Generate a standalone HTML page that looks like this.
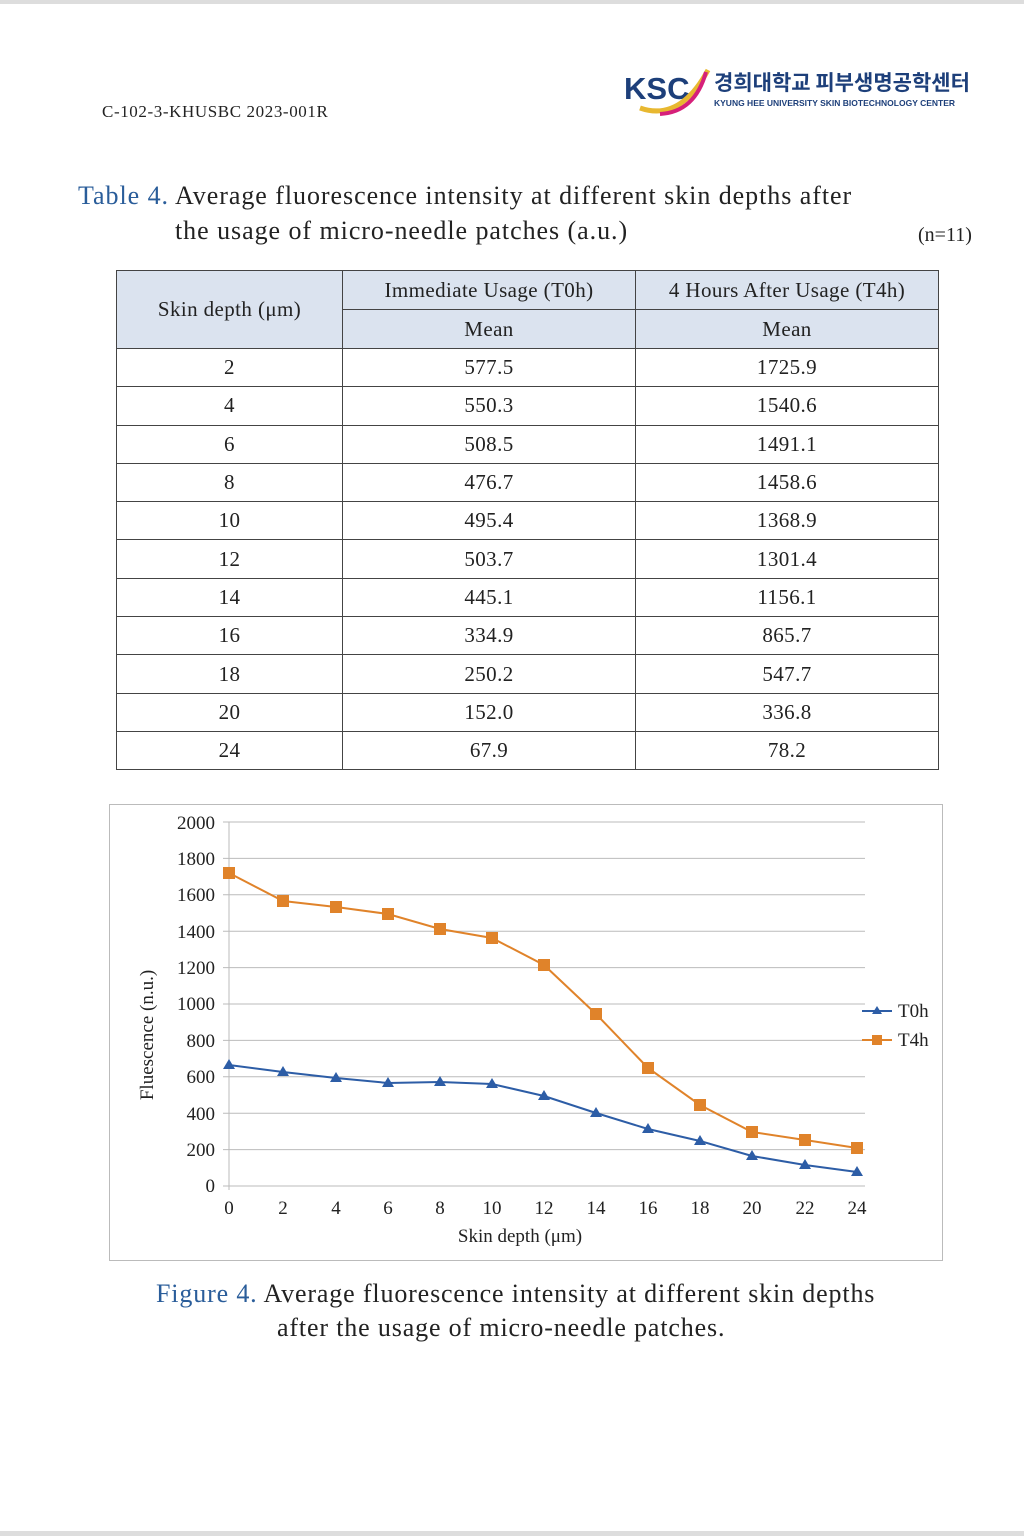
<!DOCTYPE html>
<html><head><meta charset="utf-8"><style>
body{margin:0;width:1024px;height:1536px;background:#fff;position:relative;font-family:"Liberation Serif",serif;color:#222;overflow:hidden}
.a{position:absolute;white-space:nowrap}
table{position:absolute;left:116px;top:270px;border-collapse:collapse;font-size:21px;letter-spacing:0.4px}
td{border:1.5px solid #444;text-align:center;padding:0;height:37.3px}
.h{background:#dbe3ef}
</style></head><body>
<div class="a" style="left:0;top:0;width:1024px;height:4px;background:#ddd"></div>
<div class="a" style="left:0;top:1531px;width:1024px;height:5px;background:#ddd"></div>
<div class="a" style="left:102px;top:102px;font-size:17px;letter-spacing:0.6px">C-102-3-KHUSBC 2023-001R</div>
<svg class="a" style="left:620px;top:62px" width="350" height="60">
<text x="4" y="37" font-family="Liberation Sans" font-weight="bold" font-size="31" fill="#1d3f7a">KSC</text>
<path d="M20 46 Q60 60 88 8" stroke="#e8b830" stroke-width="5" fill="none"/>
<path d="M40 52 Q75 50 86 10" stroke="#d6207a" stroke-width="4" fill="none"/>
<text x="94" y="28" font-family="Noto Sans CJK KR,sans-serif" font-weight="bold" font-size="21" fill="#1d3f7a">경희대학교 피부생명공학센터</text>
<text x="94" y="44" font-family="Liberation Sans" font-weight="bold" font-size="8.5" fill="#1d3f7a">KYUNG HEE UNIVERSITY SKIN BIOTECHNOLOGY CENTER</text>
</svg>
<div class="a" style="left:78px;top:181px;font-size:26px;letter-spacing:0.95px"><span style="color:#2a5d9a">Table 4.</span> Average fluorescence intensity at different skin depths after</div>
<div class="a" style="left:175px;top:216px;font-size:26px;letter-spacing:0.95px">the usage of micro-needle patches (a.u.)</div>
<div class="a" style="left:918px;top:224px;font-size:20px">(n=11)</div>
<table>
<tr><td class="h" rowspan="2" style="width:225px">Skin depth (μm)</td><td class="h" style="width:292px;height:38px">Immediate Usage (T0h)</td><td class="h" style="width:302px">4 Hours After Usage (T4h)</td></tr>
<tr><td class="h" style="height:38px">Mean</td><td class="h">Mean</td></tr>
<tr><td>2</td><td>577.5</td><td>1725.9</td></tr>
<tr><td>4</td><td>550.3</td><td>1540.6</td></tr>
<tr><td>6</td><td>508.5</td><td>1491.1</td></tr>
<tr><td>8</td><td>476.7</td><td>1458.6</td></tr>
<tr><td>10</td><td>495.4</td><td>1368.9</td></tr>
<tr><td>12</td><td>503.7</td><td>1301.4</td></tr>
<tr><td>14</td><td>445.1</td><td>1156.1</td></tr>
<tr><td>16</td><td>334.9</td><td>865.7</td></tr>
<tr><td>18</td><td>250.2</td><td>547.7</td></tr>
<tr><td>20</td><td>152.0</td><td>336.8</td></tr>
<tr><td>24</td><td>67.9</td><td>78.2</td></tr>
</table>
<svg class="a" style="left:0;top:0" width="1024" height="1536" font-family="Liberation Serif" font-size="19" fill="#222">
<rect x="109.5" y="804.5" width="833" height="456" fill="none" stroke="#bbb"/>
<g stroke="#bbb" stroke-width="1">
<line x1="223" y1="822" x2="865" y2="822"/><line x1="223" y1="858.4" x2="865" y2="858.4"/><line x1="223" y1="894.8" x2="865" y2="894.8"/><line x1="223" y1="931.2" x2="865" y2="931.2"/><line x1="223" y1="967.6" x2="865" y2="967.6"/><line x1="223" y1="1004" x2="865" y2="1004"/><line x1="223" y1="1040.4" x2="865" y2="1040.4"/><line x1="223" y1="1076.8" x2="865" y2="1076.8"/><line x1="223" y1="1113.2" x2="865" y2="1113.2"/><line x1="223" y1="1149.6" x2="865" y2="1149.6"/><line x1="223" y1="1186" x2="865" y2="1186"/>
<line x1="229" y1="822" x2="229" y2="1190"/>
</g>
<g text-anchor="end">
<text x="215" y="829">2000</text><text x="215" y="865">1800</text><text x="215" y="901">1600</text><text x="215" y="938">1400</text><text x="215" y="974">1200</text><text x="215" y="1010">1000</text><text x="215" y="1047">800</text><text x="215" y="1083">600</text><text x="215" y="1120">400</text><text x="215" y="1156">200</text><text x="215" y="1192">0</text>
</g>
<g text-anchor="middle">
<text x="229" y="1214">0</text><text x="283" y="1214">2</text><text x="336" y="1214">4</text><text x="388" y="1214">6</text><text x="440" y="1214">8</text><text x="492" y="1214">10</text><text x="544" y="1214">12</text><text x="596" y="1214">14</text><text x="648" y="1214">16</text><text x="700" y="1214">18</text><text x="752" y="1214">20</text><text x="805" y="1214">22</text><text x="857" y="1214">24</text>
<text x="520" y="1242">Skin depth (μm)</text>
<text transform="translate(153,1035) rotate(-90)">Fluescence (n.u.)</text>
</g>
<polyline fill="none" stroke="#e0832a" stroke-width="2" points="229,873 283,901 336,907 388,914 440,929 492,938 544,965 596,1014 648,1068 700,1105 752,1132 805,1140 857,1148"/>
<g fill="#e0832a">
<rect x="223" y="867" width="12" height="12"/><rect x="277" y="895" width="12" height="12"/><rect x="330" y="901" width="12" height="12"/><rect x="382" y="908" width="12" height="12"/><rect x="434" y="923" width="12" height="12"/><rect x="486" y="932" width="12" height="12"/><rect x="538" y="959" width="12" height="12"/><rect x="590" y="1008" width="12" height="12"/><rect x="642" y="1062" width="12" height="12"/><rect x="694" y="1099" width="12" height="12"/><rect x="746" y="1126" width="12" height="12"/><rect x="799" y="1134" width="12" height="12"/><rect x="851" y="1142" width="12" height="12"/>
</g>
<polyline fill="none" stroke="#2d5da6" stroke-width="2" points="229,1065 283,1072 336,1078 388,1083 440,1082 492,1084 544,1096 596,1113 648,1129 700,1141 752,1156 805,1165 857,1172"/>
<g fill="#2d5da6">
<path d="M229 1059l6 10h-12z"/><path d="M283 1066l6 10h-12z"/><path d="M336 1072l6 10h-12z"/><path d="M388 1077l6 10h-12z"/><path d="M440 1076l6 10h-12z"/><path d="M492 1078l6 10h-12z"/><path d="M544 1090l6 10h-12z"/><path d="M596 1107l6 10h-12z"/><path d="M648 1123l6 10h-12z"/><path d="M700 1135l6 10h-12z"/><path d="M752 1150l6 10h-12z"/><path d="M805 1159l6 10h-12z"/><path d="M857 1166l6 10h-12z"/>
</g>
<line x1="862" y1="1011" x2="892" y2="1011" stroke="#2d5da6" stroke-width="2"/><path d="M877 1006l5 8h-10z" fill="#2d5da6"/>
<text x="898" y="1017">T0h</text>
<line x1="862" y1="1040" x2="892" y2="1040" stroke="#e0832a" stroke-width="2"/><rect x="872" y="1035" width="10" height="10" fill="#e0832a"/>
<text x="898" y="1046">T4h</text>
</svg>
<div class="a" style="left:156px;top:1279px;font-size:26px;letter-spacing:0.85px"><span style="color:#2a5d9a">Figure 4.</span> Average fluorescence intensity at different skin depths</div>
<div class="a" style="left:277px;top:1313px;font-size:26px;letter-spacing:0.85px">after the usage of micro-needle patches.</div>
</body></html>
